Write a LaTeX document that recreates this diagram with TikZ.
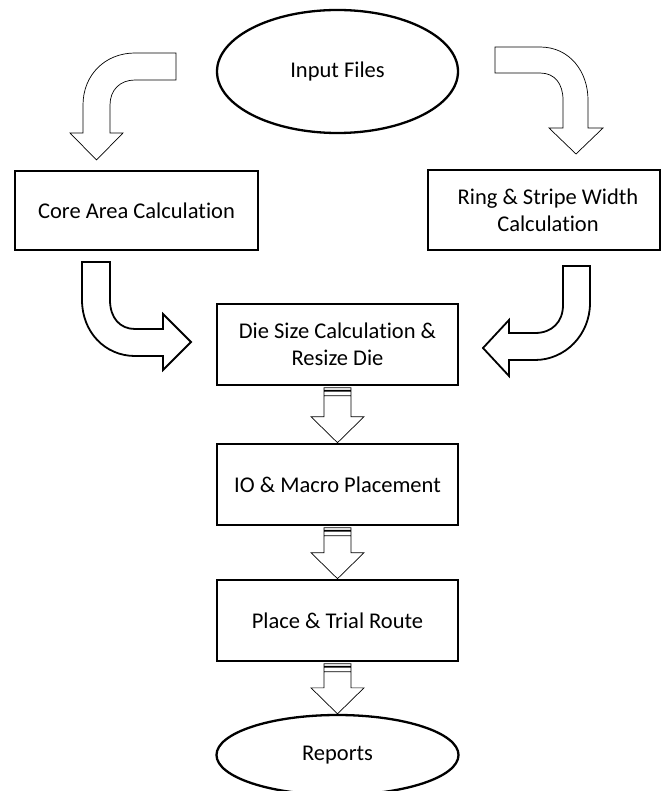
\documentclass[tikz,border=0pt]{standalone}
\usepackage{fontspec}
\setmainfont{Carlito}[Ligatures=NoCommon]
\usetikzlibrary{shapes.geometric,calc}
\tikzset{
  boxnode/.style={draw=black, line width=2.6pt, fill=white, rectangle, align=center,
    font=\fontsize{22.5}{27}\selectfont, inner sep=0pt},
  ovalnode/.style={draw=black, line width=2.3pt, fill=white, ellipse, align=center,
    font=\fontsize{22.5}{27}\selectfont, inner sep=0pt},
  thinarrow/.style={draw=black, line width=0.7pt, fill=white, line join=miter},
  thickarrow/.style={draw=black, line width=1.8pt, fill=white, line join=miter},
  stripe/.style={draw=black, line width=0.6pt, fill=black!15},
}
\newcommand\blockdown[2]{%
  \path let \p1=(#1.south), \p2=(#2.north) in
    [stripe] (\x1-13.5pt,\y1-1.5pt) rectangle (\x1+13.5pt,\y1-4pt)
    [thinarrow] (\x1-13.5pt,\y1-5pt) rectangle (\x1+13.5pt,\y1-9.5pt)
    [thinarrow] (\x1-13.5pt,\y1-9.5pt) -- (\x1-13.5pt,\y2+26pt) -- (\x1-26.5pt,\y2+26pt)
      -- (\x1,\y2) -- (\x1+26.5pt,\y2+26pt) -- (\x1+13.5pt,\y2+26pt) -- (\x1+13.5pt,\y1-9.5pt) -- cycle;
}
\begin{document}
\begin{tikzpicture}[x=1pt,y=-1pt]
\useasboundingbox (0,0) rectangle (661,791);
\fill[white] (0,0) rectangle (661,791);

% nodes
\node[ovalnode, minimum width=241pt, minimum height=123pt] (inp) at (337.5,71.5) {Input Files};
\node[boxnode, minimum width=243pt, minimum height=79pt] (core) at (136.5,210.5) {Core Area Calculation};
\node[boxnode, minimum width=232pt, minimum height=80pt] (ring) at (544,210) {\hspace*{8pt}Ring \& Stripe Width\\\hspace*{8pt}Calculation};
\node[boxnode, minimum width=241pt, minimum height=81pt] (die) at (337.5,344.5) {Die Size Calculation \&\\Resize Die};
\node[boxnode, minimum width=241pt, minimum height=81pt] (io) at (337.5,484.5) {IO \& Macro Placement};
\node[boxnode, minimum width=241pt, minimum height=81pt] (place) at (337.5,620.5) {Place \& Trial Route};
\node[ovalnode, minimum width=242pt, minimum height=80pt] (rep) at (337.5,755) {Reports};

% top-left curved block arrow (Input Files -> Core Area)
\draw[thinarrow] (176,53) -- (135,53) .. controls (105,53) and (83,75) .. (83,105)
  -- (83,133) -- (70,133) -- (96.5,160) -- (123,133) -- (110,133) -- (110,105)
  .. controls (110,90) and (120,80) .. (135,80) -- (176,80) -- cycle;

% top-right curved block arrow (Input Files -> Ring)
\draw[thinarrow] (495,47) -- (540,47) .. controls (570,47) and (588,72) .. (588,100)
  -- (588,128) -- (603,128) -- (576,154) -- (549,128) -- (563,128) -- (563,100)
  .. controls (563,84) and (555,73) .. (540,73) -- (495,73) -- cycle;

% bottom-left curved block arrow (Core -> Die)
\draw[thickarrow] (82,262) -- (82,300) .. controls (82,332) and (105,356) .. (135,356)
  -- (163,356) -- (163,370) -- (191,342) -- (163,314) -- (163,329) -- (135,329)
  .. controls (120,329) and (110,318) .. (110,300) -- (110,262) -- cycle;

% bottom-right curved block arrow (Ring -> Die)
\draw[thickarrow] (563,266) -- (590,266) -- (590,303) .. controls (590,335) and (565,360) .. (535,360)
  -- (509,360) -- (509,376) -- (483,348) -- (509,320) -- (509,333) -- (535,333)
  .. controls (552,333) and (563,322) .. (563,305) -- cycle;

% straight block arrows
\blockdown{die}{io}
\blockdown{io}{place}
\blockdown{place}{rep}
\end{tikzpicture}
\end{document}
